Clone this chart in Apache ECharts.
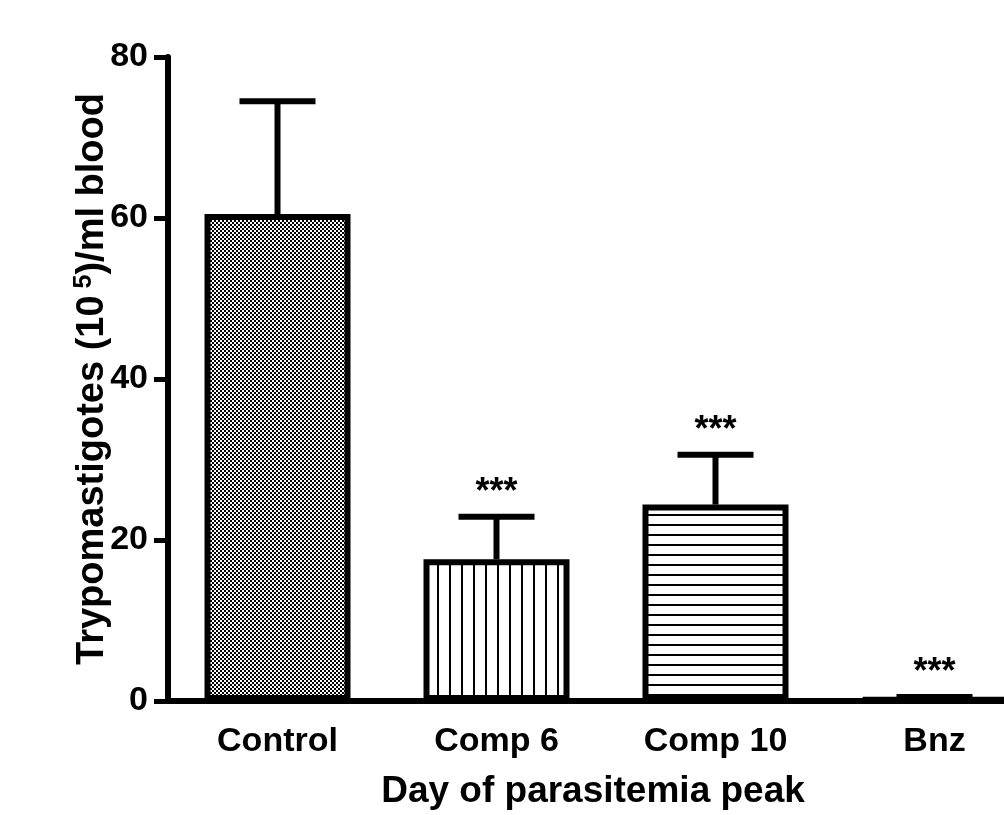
<!DOCTYPE html>
<html>
<head>
<meta charset="utf-8">
<script src="https://cdn.jsdelivr.net/npm/echarts@6/dist/echarts.min.js"></script>
<style>
  html, body { margin: 0; padding: 0; background: #fff; }
  #chart { width: 1004px; height: 815px; }
</style>
</head>
<body>
<div id="chart"></div>
<script>
var categories = ['Control', 'Comp 6', 'Comp 10', 'Bnz'];
var means = [60.5, 17.6, 24.4, 0.3];
var errors = [14.0, 5.3, 6.2, 0.2];
var sigLabels = ['', '***', '***', '***'];
var yTicks = { min: 0, max: 80, interval: 20 };

var FONT = '"Liberation Sans", Arial, sans-serif';

// fill patterns for the bars
function makePattern(w, h, draw) {
    var c = document.createElement('canvas');
    c.width = w;
    c.height = h;
    var ctx = c.getContext('2d');
    ctx.fillStyle = '#fff';
    ctx.fillRect(0, 0, w, h);
    ctx.fillStyle = '#000';
    draw(ctx);
    return { image: c, repeat: 'repeat' };
}
var checker = makePattern(4, 4, function (ctx) {
    ctx.fillRect(2, 0, 2, 2);
    ctx.fillRect(0, 2, 2, 2);
});
var vLines = makePattern(12, 4, function (ctx) {
    ctx.fillRect(5, 0, 2, 4);
});
var hLines = makePattern(4, 10, function (ctx) {
    ctx.fillRect(0, 4, 4, 2);
});
var patterns = [checker, vLines, hLines, '#fff'];

var barData = means.map(function (v, i) {
    return { value: v, itemStyle: { color: patterns[i] } };
});
var errData = means.map(function (v, i) {
    return [i, v, v + errors[i]];
});

var chart = echarts.init(document.getElementById('chart'));

var option = {
    animation: false,
    backgroundColor: '#fff',
    // plot runs past the right edge, as in the original figure
    grid: { left: 168, top: 57, width: 876, height: 644, outerBoundsMode: 'none', containLabel: false },
    xAxis: {
        type: 'category',
        data: categories,
        name: 'Day of parasitemia peak',
        nameLocation: 'middle',
        nameGap: 72,
        nameMoveOverlap: false,
        nameTextStyle: {
            fontFamily: FONT, fontWeight: 'bold', fontSize: 37, color: '#000',
            padding: [0, 26, 0, 0]
        },
        axisLine: { lineStyle: { color: '#000', width: 6 } },
        axisTick: { alignWithLabel: true, length: 12, lineStyle: { color: '#000', width: 5 } },
        axisLabel: { fontFamily: FONT, fontWeight: 'bold', fontSize: 34, color: '#000', margin: 24 }
    },
    yAxis: {
        type: 'value',
        min: yTicks.min,
        max: yTicks.max,
        interval: yTicks.interval,
        name: '{a|Trypomastigotes (10}{s| 5}{a|)/ml blood}',
        nameLocation: 'middle',
        nameRotate: 90,
        nameGap: 54,
        nameMoveOverlap: false,
        nameTextStyle: {
            padding: [0, 0, 0, 0],
            rich: {
                a: { fontFamily: FONT, fontWeight: 'bold', fontSize: 38, color: '#000', lineHeight: 42 },
                s: { fontFamily: FONT, fontWeight: 'bold', fontSize: 25, color: '#000', verticalAlign: 'top', lineHeight: 42 }
            }
        },
        splitLine: { show: false },
        axisLine: { show: true, lineStyle: { color: '#000', width: 6 } },
        axisTick: { show: true, length: 14, lineStyle: { color: '#000', width: 5 } },
        axisLabel: { fontFamily: FONT, fontWeight: 'bold', fontSize: 34, color: '#000', margin: 20 }
    },
    series: [
        {
            type: 'bar',
            data: barData,
            barWidth: 146,
            itemStyle: { borderColor: '#000', borderWidth: 6 },
            z: 3
        },
        {
            type: 'custom',
            data: errData,
            z: 4,
            renderItem: function (params, api) {
                var lo = api.coord([api.value(0), api.value(1)]);
                var hi = api.coord([api.value(0), api.value(2)]);
                var half = 38;
                var style = { stroke: '#000', lineWidth: 6 };
                return {
                    type: 'group',
                    children: [
                        { type: 'line', shape: { x1: lo[0], y1: lo[1], x2: hi[0], y2: hi[1] }, style: style },
                        { type: 'line', shape: { x1: hi[0] - half, y1: hi[1], x2: hi[0] + half, y2: hi[1] }, style: style },
                        {
                            type: 'text',
                            style: {
                                text: sigLabels[params.dataIndex],
                                x: hi[0], y: hi[1] - 24,
                                align: 'center', verticalAlign: 'middle',
                                font: 'bold 36px ' + FONT,
                                fill: '#000'
                            }
                        }
                    ]
                };
            }
        }
    ]
};
chart.setOption(option);
</script>
</body>
</html>
